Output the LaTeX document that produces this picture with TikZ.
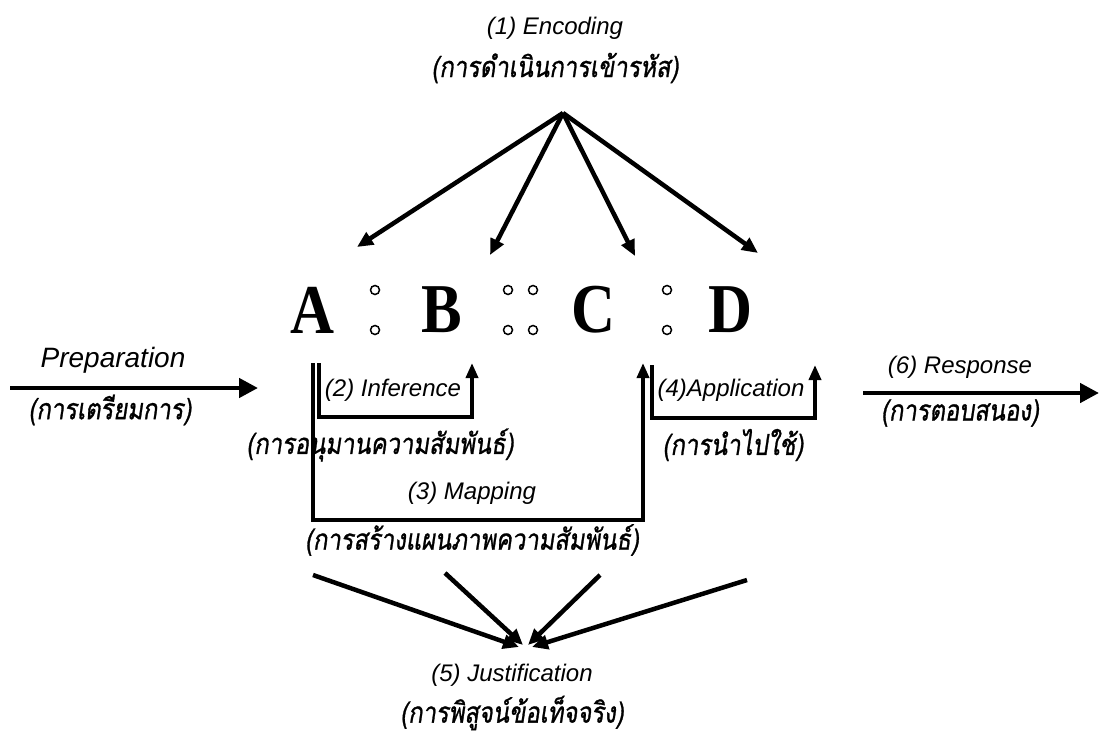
\documentclass[tikz,border=0pt]{standalone}
\usepackage{fontspec}
\setmainfont{Liberation Sans}
\newfontfamily\thaifont[Script=Thai,FakeSlant=0.15,FakeStretch=0.82,FakeBold=1]{Loma}
\newfontfamily\letterfont[FakeStretch=0.87]{Liberation Serif}
\usetikzlibrary{arrows.meta}
\tikzset{
  lbl/.style={font=\fontsize{24}{28}\selectfont\itshape, inner sep=0pt},
  th/.style={font=\fontsize{29}{32}\selectfont\thaifont, inner sep=0pt},
  letter/.style={font=\fontsize{70}{76}\selectfont\letterfont\bfseries, inner sep=0pt},
  conn/.style={line width=4.5pt},
  arr/.style={conn, -{Triangle[length=16pt,width=14pt]}},
  harr/.style={conn, -{Triangle[length=19pt,width=19pt]}},
  barr/.style={line width=3.6pt, -{Triangle[length=15pt,width=12pt]}},
  dot/.style={circle, draw, line width=1.5pt, minimum size=9pt, inner sep=0pt},
}
\begin{document}
\begin{tikzpicture}[x=1pt,y=-1pt]
\useasboundingbox (0,0) rectangle (1102,738);
% title
\node[lbl] (enc) at (555,28) {(1) Encoding};
\node[th] (encth) at (555,68) {(การดำเนินการเข้ารหัส)};
% letters
\node[letter] (A) at (312,310) {A};
\node[letter] (B) at (442,310) {B};
\node[letter] (C) at (593,310) {C};
\node[letter] (D) at (730,310) {D};
% colon dots
\node[dot] (d1) at (375,290) {};
\node[dot] (d2) at (375,330) {};
\node[dot] (d3) at (508,290) {};
\node[dot] (d4) at (508,330) {};
\node[dot] (d5) at (533,290) {};
\node[dot] (d6) at (533,330) {};
\node[dot] (d7) at (667,290) {};
\node[dot] (d8) at (667,330) {};
% encoding arrows
\coordinate (apex) at (563,113);
\coordinate (tA) at (357,247);
\coordinate (tB) at (490,255);
\coordinate (tC) at (635,256);
\coordinate (tD) at (758,253);
\draw[arr] (apex) -- (tA);
\draw[arr] (apex) -- (tB);
\draw[arr] (apex) -- (tC);
\draw[arr] (apex) -- (tD);
% preparation
\coordinate (p0) at (10,388);
\coordinate (p1) at (258,388);
\draw[harr] (p0) -- (p1);
\node[lbl, font=\fontsize{28}{32}\selectfont\itshape] (prep) at (113,360) {Preparation};
\node[th] (prepth) at (110,410) {(การเตรียมการ)};
% response
\coordinate (r0) at (863,393);
\coordinate (r1) at (1099,393);
\draw[harr] (r0) -- (r1);
\node[lbl] (resp) at (960,367) {(6) Response};
\node[th] (respth) at (960,413) {(การตอบสนอง)};
% inference
\coordinate (i1) at (319,363);
\coordinate (i2) at (472,363);
\draw[barr] (i1) -- ++(0,54) -| (i2);
\node[lbl] (inf) at (393,390) {(2) Inference};
\node[th] (infth) at (380,445) {(การอนุมานความสัมพันธ์)};
% mapping
\coordinate (m1) at (313,363);
\coordinate (m2) at (643,363);
\draw[barr] (m1) -- ++(0,157) -| (m2);
\node[lbl] (map) at (472,493) {(3) Mapping};
\node[th] (mapth) at (472,540) {(การสร้างแผนภาพความสัมพันธ์)};
% application
\coordinate (a1) at (652,365);
\coordinate (a2) at (815,365);
\draw[barr] (a1) -- ++(0,53) -| (a2);
\node[lbl] (app) at (731,390) {(4)Application};
\node[th] (appth) at (733,445) {(การนำไปใช้)};
% justification
\coordinate (j1) at (313,575);
\coordinate (j2) at (445,573);
\coordinate (j3) at (600,575);
\coordinate (j4) at (747,580);
\coordinate (jt1) at (519,647);
\coordinate (jt2) at (523,645);
\coordinate (jt3) at (528,645);
\coordinate (jt4) at (532,647);
\draw[arr] (j1) -- (jt1);
\draw[arr] (j2) -- (jt2);
\draw[arr] (j3) -- (jt3);
\draw[arr] (j4) -- (jt4);
\node[lbl] (jus) at (512,675) {(5) Justification};
\node[th] (justh) at (512,713) {(การพิสูจน์ข้อเท็จจริง)};
\end{tikzpicture}
\end{document}
